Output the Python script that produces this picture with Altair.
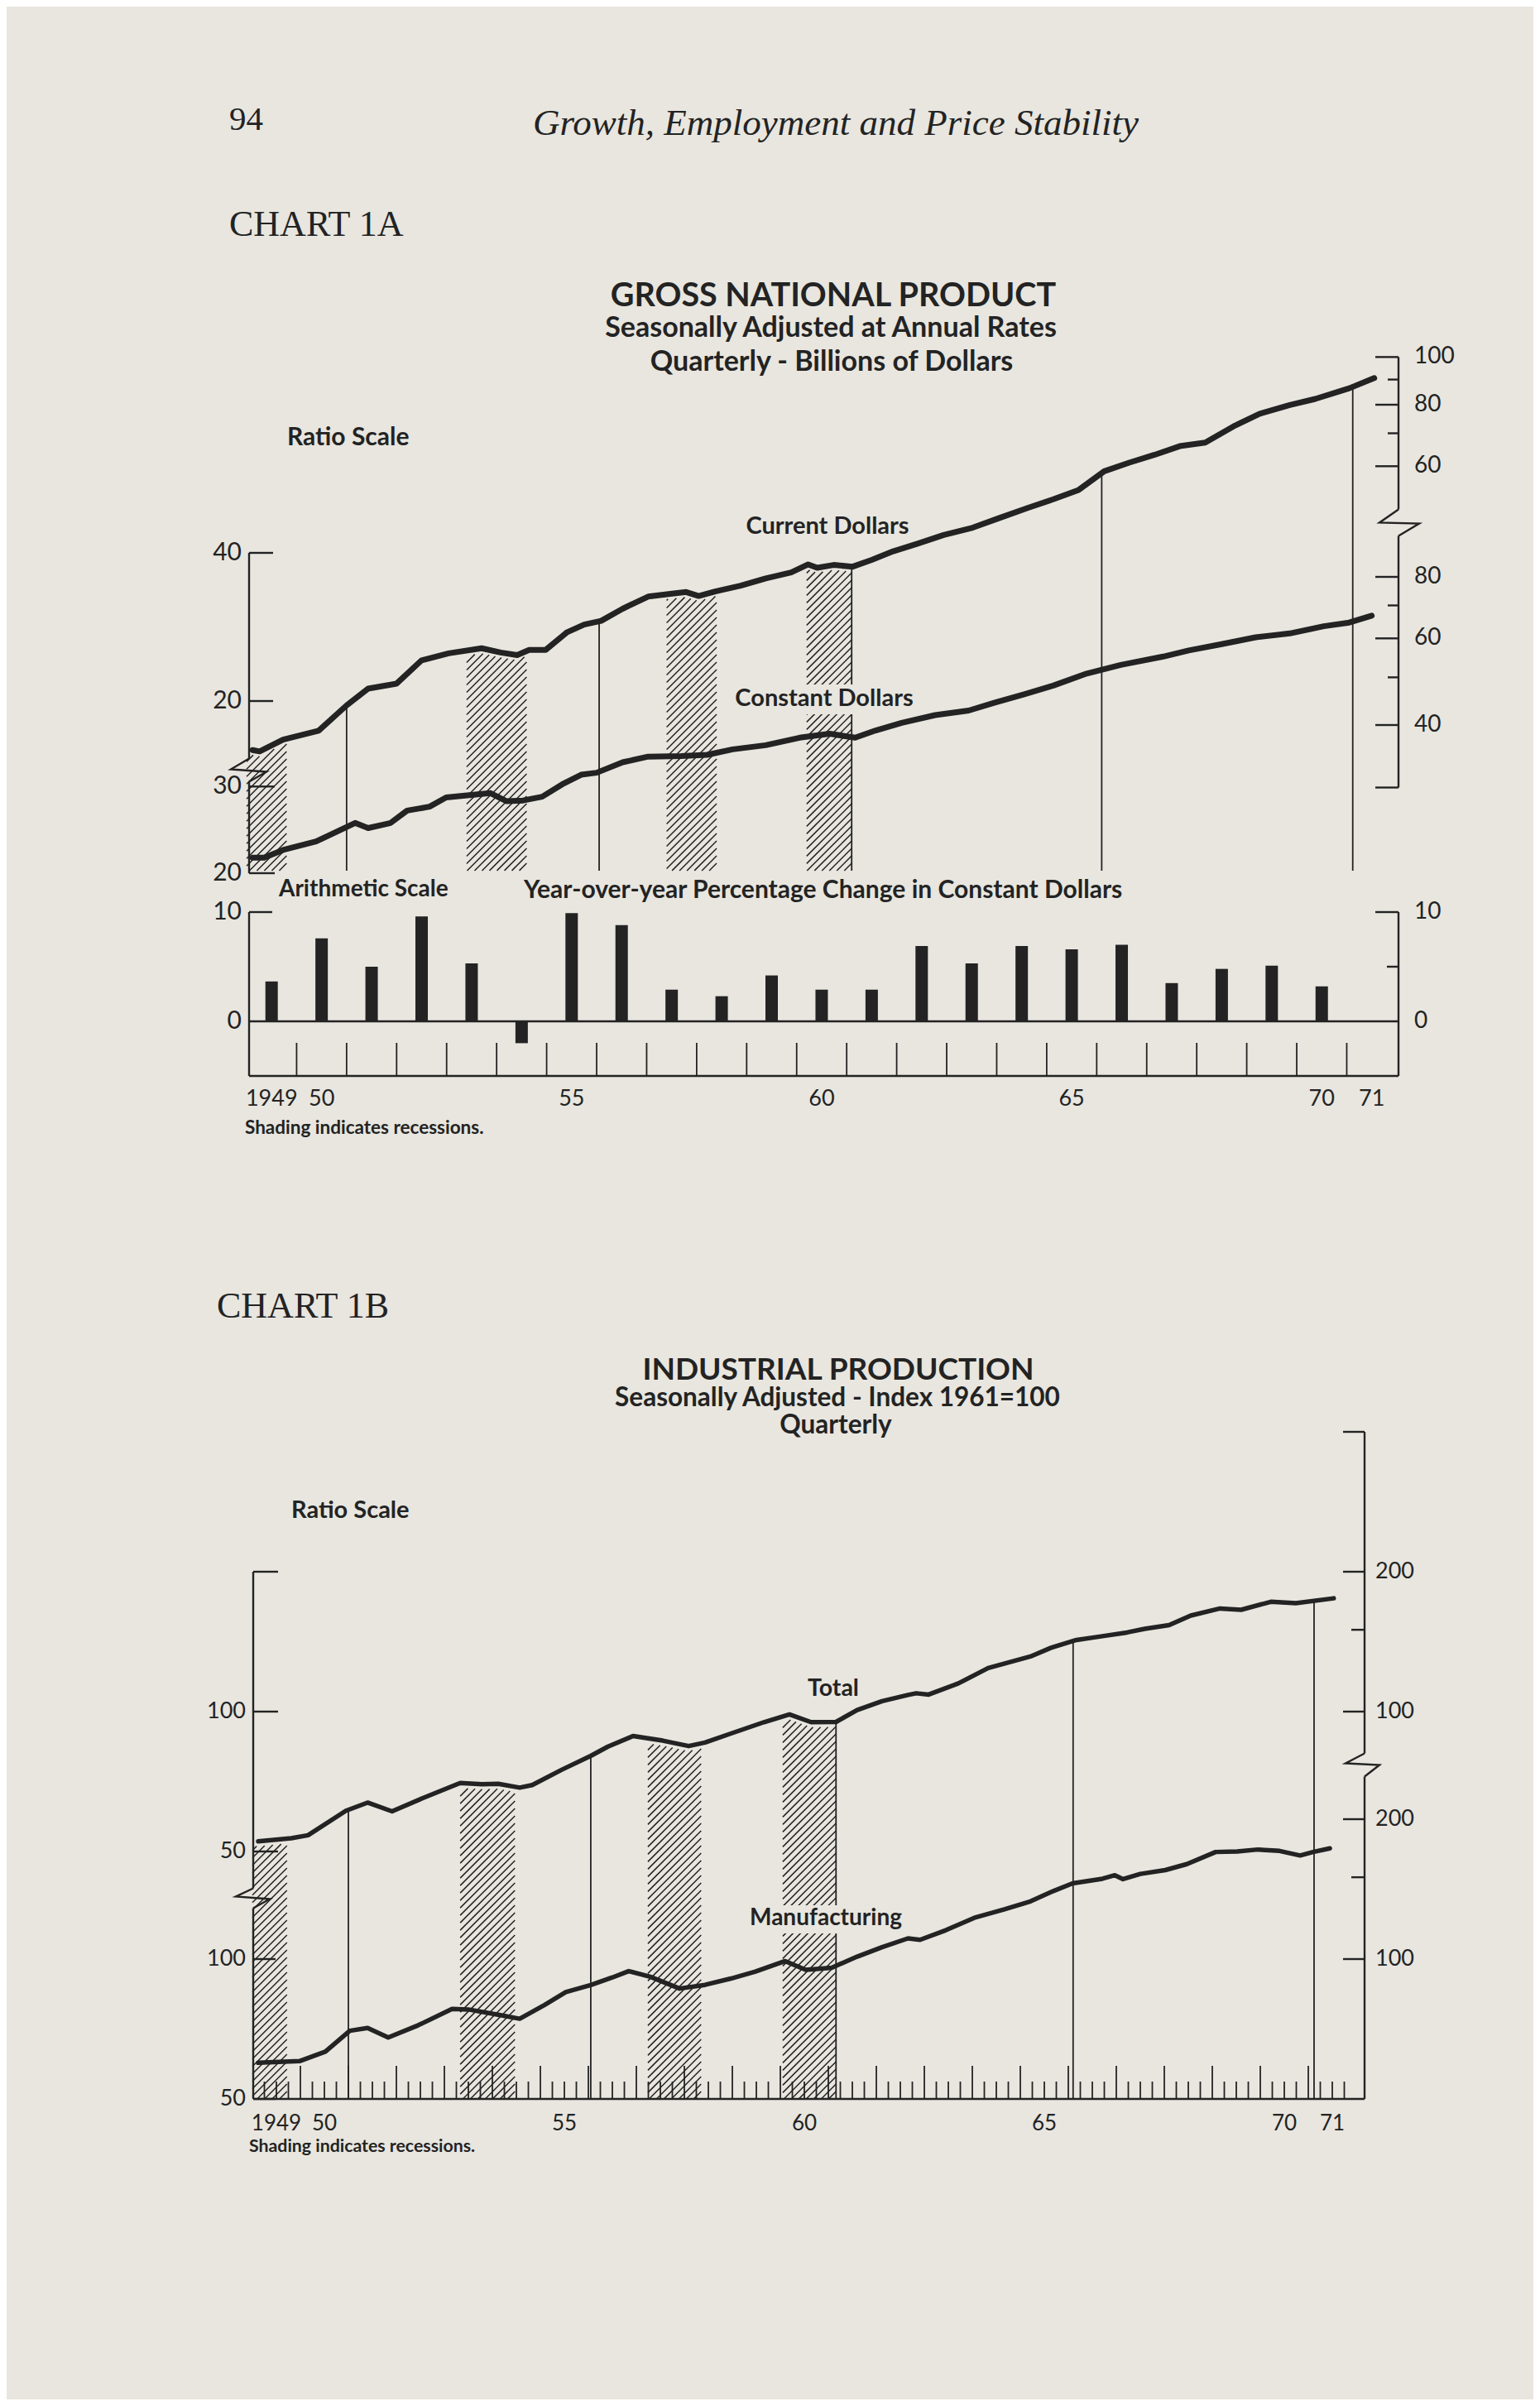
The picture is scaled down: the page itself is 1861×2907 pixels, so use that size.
import altair as alt
import numpy as np
import pandas as pd

# ---------------- values ----------------
# Chart 1A - GNP, billions of dollars (ratio scale), quarterly readings
CUR_T = [1949.12, 1949.26, 1949.73, 1950.44, 1951.0, 1951.43, 1952.0, 1952.5, 1953.04, 1953.7,
         1954.08, 1954.41, 1954.65, 1954.98, 1955.41, 1955.75, 1956.09, 1956.52, 1957.03, 1957.44,
         1957.79, 1958.04, 1958.37, 1958.88, 1959.38, 1959.89, 1960.23, 1960.41, 1960.74, 1961.12,
         1961.5, 1961.93, 1962.43, 1962.94, 1963.52, 1964.03, 1964.63, 1965.13, 1965.64, 1966.15,
         1966.65, 1967.16, 1967.66, 1968.17, 1968.77, 1969.26, 1969.86, 1970.37, 1971.05, 1971.55]
CUR_V = [15.9, 15.8, 16.7, 17.4, 19.6, 21.2, 21.7, 24.2, 25.0, 25.6,
         25.1, 24.8, 25.4, 25.4, 27.6, 28.6, 29.1, 30.8, 32.6, 33.0,
         33.3, 32.7, 33.4, 34.3, 35.5, 36.5, 37.9, 37.3, 37.8, 37.5,
         38.7, 40.3, 41.8, 43.5, 45.0, 47.0, 49.4, 51.4, 53.7, 58.6,
         61.0, 63.3, 65.9, 67.0, 72.6, 76.7, 79.9, 82.2, 86.4, 90.6]
CON_T = [1949.12, 1949.35, 1949.73, 1950.39, 1951.17, 1951.43, 1951.88, 1952.21, 1952.66, 1952.99,
         1953.87, 1954.2, 1954.53, 1954.91, 1955.31, 1955.69, 1956.0, 1956.52, 1957.03, 1957.69,
         1958.21, 1958.72, 1959.38, 1960.06, 1960.66, 1961.17, 1961.58, 1962.1, 1962.77, 1963.44,
         1963.95, 1964.55, 1965.13, 1965.8, 1966.48, 1967.33, 1967.84, 1968.5, 1969.18, 1969.86,
         1970.54, 1971.05, 1971.5]
CON_V = [21.5, 21.5, 22.3, 23.2, 25.3, 24.7, 25.3, 26.8, 27.3, 28.5,
         29.1, 28.0, 28.1, 28.6, 30.3, 31.7, 32.0, 33.6, 34.5, 34.6,
         34.8, 35.7, 36.4, 37.7, 38.4, 37.7, 39.0, 40.4, 41.9, 42.8,
         44.4, 46.2, 48.1, 50.9, 53.0, 55.1, 56.7, 58.4, 60.3, 61.4,
         63.5, 64.6, 66.7]
# year-over-year % change in constant dollars
BAR_YEARS = list(range(1949, 1971))
BAR_PCT = [3.65, 7.6, 5.0, 9.6, 5.3, -2.0, 9.9, 8.8, 2.9, 2.3, 4.2,
           2.9, 2.9, 6.9, 5.3, 6.9, 6.6, 7.0, 3.5, 4.8, 5.1, 3.2]

# Chart 1B - industrial production, index 1961=100 (ratio scale)
TOT_T = [1949.12, 1949.81, 1950.16, 1950.95, 1951.4, 1951.91, 1952.53, 1953.33, 1953.78, 1954.12,
         1954.57, 1954.83, 1955.45, 1956.05, 1956.41, 1956.93, 1957.55, 1958.09, 1958.43, 1958.97,
         1959.66, 1960.19, 1960.64, 1961.16, 1961.6, 1962.12, 1962.66, 1962.83, 1963.09, 1963.71,
         1964.33, 1965.21, 1965.64, 1966.17, 1966.71, 1967.22, 1967.59, 1968.1, 1968.55, 1969.16,
         1969.6, 1970.22, 1970.74, 1971.53]
TOT_V = [52.6, 53.4, 54.2, 61.2, 63.7, 61.0, 65.0, 70.2, 69.8, 69.9,
         68.6, 69.5, 75.0, 80.3, 84.1, 88.6, 86.6, 84.3, 85.8, 89.7,
         94.9, 98.6, 94.9, 95.0, 100.8, 105.3, 108.6, 109.5, 108.8, 115.0,
         124.1, 131.4, 137.2, 142.6, 145.3, 148.0, 150.7, 153.5, 160.9, 166.7,
         165.6, 172.3, 171.2, 175.3]
MAN_T = [1949.12, 1949.98, 1950.52, 1951.03, 1951.4, 1951.83, 1952.45, 1953.16, 1953.5, 1954.12,
         1954.57, 1955.09, 1955.53, 1956.05, 1956.5, 1956.84, 1957.29, 1957.9, 1958.43, 1958.97,
         1959.48, 1960.1, 1960.53, 1961.07, 1961.6, 1962.12, 1962.66, 1962.91, 1963.45, 1964.07,
         1964.67, 1965.21, 1965.64, 1966.09, 1966.71, 1966.97, 1967.14, 1967.5, 1968.02, 1968.47,
         1969.07, 1969.52, 1969.95, 1970.4, 1970.83, 1971.1, 1971.45]
MAN_V = [59.8, 60.3, 63.2, 70.1, 71.1, 67.8, 72.0, 78.1, 77.9, 75.9,
         74.4, 79.7, 84.9, 87.9, 91.3, 94.2, 91.6, 86.4, 88.0, 90.8,
         94.0, 99.0, 94.8, 95.8, 101.2, 106.1, 110.8, 110.0, 115.4, 123.0,
         128.0, 133.1, 139.4, 145.5, 148.9, 151.5, 148.6, 152.5, 155.4, 160.1,
         170.0, 170.4, 172.1, 170.9, 167.1, 170.0, 173.1]

RECESSIONS_A = [(1949.0, 1949.8), (1953.4, 1954.6), (1957.4, 1958.4), (1960.2, 1961.1)]
RECESSIONS_B = [(1949.0, 1949.72), (1953.33, 1954.47), (1957.24, 1958.35), (1960.05, 1961.16)]
MARKERS_A = [1951.0, 1956.05, 1961.1, 1966.1, 1971.12]
MARKERS_B = [1951.0, 1956.05, 1961.16, 1966.1, 1971.12]

YEAR_LABEL_YEARS = [1949, 1950, 1955, 1960, 1965, 1970, 1971]
YEAR_LABELS = ["1949", "50", "55", "60", "65", "70", "71"]

# axis tick values / labels
A_LEFT_CUR = [40, 20]
A_LEFT_CON = [30, 20]
A_RIGHT_CUR = [100, 80, 60]
A_RIGHT_CUR_MINOR = [90, 70]
A_RIGHT_CON = [80, 60, 40]
A_RIGHT_CON_MINOR = [70, 50]
BAR_LABELS = [10, 0]
B_LEFT_TOT = [100, 50]
B_LEFT_MAN = [100, 50]
B_RIGHT_TOT = [200, 100]
B_RIGHT_MAN = [200, 100]
B_RIGHT_MINOR = [150]

# ---------------- page geometry (page pixels) ----------------
OFF = 8
W, H = 1845, 2891
BG = "#e8e6df"
INK = "#232323"
SERIF = "'Liberation Serif', 'Times New Roman', serif"
SANS = "Lato, 'Open Sans', sans-serif"

A_X0, A_PXYR = 298.0, 60.43
B_X0, B_PXYR = 305.0, 58.0
A_LEFT, A_RIGHT = 301, 1690
B_LEFT, B_RIGHT = 306, 1649
DBL_A, DBL_B = 179.0, 169.0
REF_CUR, REF_CON, REF_TOT, REF_MAN = 668.0, 876.0, 2068.0, 2367.0


def val_c(y): return 40 * 2 ** ((REF_CUR - y) / DBL_A)
def val_k(y): return 40 * 2 ** ((REF_CON - y) / DBL_A)
def val_t(y): return 100 * 2 ** ((REF_TOT - y) / DBL_B)
def val_m(y): return 100 * 2 ** ((REF_MAN - y) / DBL_B)


def xscale(x0, pxyr):
    return alt.Scale(domain=[1949, 1972], range=[x0 - OFF, x0 + 23 * pxyr - OFF], nice=False, zero=False)


def logscale(vref, yref, dbl):
    f = lambda v: yref - dbl * np.log2(v / vref)
    return alt.Scale(type="log", domain=[10, 1000], range=[float(f(10)) - OFF, float(f(1000)) - OFF], nice=False)


XA = lambda: xscale(A_X0, A_PXYR)
XB = lambda: xscale(B_X0, B_PXYR)
SC = lambda: logscale(40, REF_CUR, DBL_A)
SK = lambda: logscale(40, REF_CON, DBL_A)
ST = lambda: logscale(100, REF_TOT, DBL_B)
SM = lambda: logscale(100, REF_MAN, DBL_B)
SBAR = lambda: alt.Scale(domain=[0, 10], range=[1234 - OFF, 1102 - OFF], nice=False, zero=False)

ONE = pd.DataFrame({"a": [0]})
layers = []


def txt(s, x, y, size, font=SANS, weight="bold", align="left", style="normal"):
    return alt.Chart(ONE).mark_text(text=s, fontSize=size, font=font, fontWeight=weight, fontStyle=style,
                                    align=align, baseline="alphabetic", color=INK).encode(
        x=alt.value(x - OFF), y=alt.value(y - OFF))


def knockout(x1, x2, y1, y2):
    """paper-coloured box behind a label (the hatching stops behind the text in the original)"""
    return alt.Chart(ONE).mark_rect(color=BG).encode(
        x=alt.value(x1 - OFF), x2=alt.value(x2 - OFF), y=alt.value(y1 - OFF), y2=alt.value(y2 - OFF))


def vrule(xpx, v1, v2, ysc, width=2.4):
    df = pd.DataFrame({"a": [v1], "b": [v2]})
    return alt.Chart(df).mark_rule(strokeWidth=width, color=INK).encode(
        x=alt.value(xpx - OFF), y=alt.Y("a:Q", scale=ysc, axis=None), y2="b:Q")


def hrule(x1, x2, v, ysc, width=2.4):
    df = pd.DataFrame({"v": [v]})
    return alt.Chart(df).mark_rule(strokeWidth=width, color=INK).encode(
        x=alt.value(x1 - OFF), x2=alt.value(x2 - OFF), y=alt.Y("v:Q", scale=ysc, axis=None))


def ticks(x1, x2, vals, ysc, width=2.4):
    df = pd.DataFrame({"v": vals})
    return alt.Chart(df).mark_rule(strokeWidth=width, color=INK).encode(
        x=alt.value(x1 - OFF), x2=alt.value(x2 - OFF), y=alt.Y("v:Q", scale=ysc, axis=None))


def labels(xpx, vals, ysc, align, size):
    df = pd.DataFrame({"v": vals, "s": [str(v) for v in vals]})
    return alt.Chart(df).mark_text(align=align, baseline="middle", fontSize=size, font=SANS,
                                   color=INK).encode(
        x=alt.value(xpx - OFF), y=alt.Y("v:Q", scale=ysc, axis=None), text="s:N")


def zigzag(points):
    df = pd.DataFrame({"x": [p[0] - OFF for p in points], "y": [p[1] - OFF for p in points],
                       "o": list(range(len(points)))})
    return alt.Chart(df).mark_line(strokeWidth=2.4, color=INK).encode(
        x=alt.X("x:Q", scale=alt.Scale(domain=[0, W], range=[0, W], nice=False, zero=False), axis=None),
        y=alt.Y("y:Q", scale=alt.Scale(domain=[0, H], range=[0, H], nice=False, zero=False), axis=None),
        order="o:Q")


def hatch_df(t_curve, v_curve, intervals, pxyr, dbl, v_bottom, gap=6.0, step=9.0):
    lt = np.array(t_curve)
    lw = np.log2(np.array(v_curve)) * dbl
    wb = np.log2(v_bottom) * dbl
    rows = []
    for ta, tb in intervals:
        ua, ub = (ta - 1949) * pxyr, (tb - 1949) * pxyr
        us = np.linspace(ua, ub, 500)
        wc = np.interp(1949 + us / pxyr, lt, lw) - gap
        for c in np.arange(wb - ub, wc.max() - ua, step):
            ok = (us + c <= wc) & (us + c >= wb)
            if not ok.any():
                continue
            i0 = int(np.where(ok)[0][0])
            i1 = i0
            while i1 + 1 < len(us) and ok[i1 + 1]:
                i1 += 1
            u1, u2 = us[i0], us[i1]
            if u2 - u1 < 1:
                continue
            rows.append(dict(t1=1949 + u1 / pxyr, t2=1949 + u2 / pxyr,
                             v1=2 ** ((u1 + c) / dbl), v2=2 ** ((u2 + c) / dbl)))
    return pd.DataFrame(rows)


def hatch_layer(df, xs, ys):
    return alt.Chart(df).mark_rule(strokeWidth=1.5, color=INK).encode(
        x=alt.X("t1:Q", scale=xs, axis=None), x2="t2:Q",
        y=alt.Y("v1:Q", scale=ys, axis=None), y2="v2:Q")


def marker_layer(markers, t_curve, v_curve, v_bottom, xs, ys):
    top = [float(2 ** np.interp(m, t_curve, np.log2(v_curve))) for m in markers]
    df = pd.DataFrame({"t": markers, "a": top, "b": [v_bottom] * len(markers)})
    return alt.Chart(df).mark_rule(strokeWidth=1.8, color=INK).encode(
        x=alt.X("t:Q", scale=xs, axis=None), y=alt.Y("a:Q", scale=ys, axis=None), y2="b:Q")


def line_layer(t, v, xs, ys, width):
    df = pd.DataFrame({"t": t, "v": v})
    return alt.Chart(df).mark_line(strokeWidth=width, color=INK, strokeJoin="round", strokeCap="round").encode(
        x=alt.X("t:Q", scale=xs, axis=None), y=alt.Y("v:Q", scale=ys, axis=None), order="t:Q")


# ---------------- page header ----------------
layers += [
    txt("94", 277, 157, 41, font=SERIF, weight="normal"),
    txt("Growth, Employment and Price Stability", 1010, 163, 45, font=SERIF, weight="normal",
        align="center", style="italic"),
    txt("CHART 1A", 277, 285, 44, font=SERIF, weight="normal"),
    txt("GROSS NATIONAL PRODUCT", 1007, 370, 39.5, align="center"),
    txt("Seasonally Adjusted at Annual Rates", 1004, 407, 34, align="center"),
    txt("Quarterly - Billions of Dollars", 1005, 448, 34, align="center"),
    txt("Ratio Scale", 347, 538, 30),
    txt("Current Dollars", 1000, 645, 29, align="center"),
    txt("Arithmetic Scale", 337, 1083, 28),
    txt("Year-over-year Percentage Change in Constant Dollars", 633, 1085, 30),
    txt("Shading indicates recessions.", 296, 1370, 22.5),
]

# ---------------- Chart 1A: ratio panel ----------------
a_bottom = val_c(1052)
layers.append(hatch_layer(hatch_df(CUR_T, CUR_V, RECESSIONS_A, A_PXYR, DBL_A, a_bottom), XA(), SC()))
layers.append(marker_layer(MARKERS_A, CUR_T, CUR_V, a_bottom, XA(), SC()))
layers.append(knockout(884, 1108, 827, 863))
layers.append(txt("Constant Dollars", 996, 853, 29, align="center"))
layers.append(line_layer(CUR_T, CUR_V, XA(), SC(), 7))
layers.append(line_layer(CON_T, CON_V, XA(), SK(), 7))

layers += [
    vrule(A_LEFT, 40, val_c(916.5), SC()),
    vrule(A_LEFT, val_k(944.5), 20, SK()),
    vrule(A_RIGHT, 100, val_c(615.5), SC()),
    vrule(A_RIGHT, val_k(647.5), val_k(951.5), SK()),
    ticks(A_LEFT, A_LEFT + 29, A_LEFT_CUR, SC()),
    ticks(A_LEFT, A_LEFT + 31, A_LEFT_CON, SK()),
    ticks(A_RIGHT - 28, A_RIGHT, A_RIGHT_CUR, SC()),
    ticks(A_RIGHT - 13, A_RIGHT, A_RIGHT_CUR_MINOR, SC()),
    ticks(A_RIGHT - 28, A_RIGHT, A_RIGHT_CON + [val_k(951.5)], SK()),
    ticks(A_RIGHT - 13, A_RIGHT, A_RIGHT_CON_MINOR, SK()),
    labels(292, A_LEFT_CUR, SC(), "right", 30),
    labels(292, A_LEFT_CON, SK(), "right", 30),
    labels(1709, A_RIGHT_CUR, SC(), "left", 28),
    labels(1709, A_RIGHT_CON, SK(), "left", 28),
    zigzag([(A_LEFT, 916.5), (279, 929.5), (322, 932.5), (A_LEFT, 944.5)]),
    zigzag([(A_RIGHT, 615.5), (1667, 631.5), (1715, 632.5), (A_RIGHT, 647.5)]),
]

# ---------------- Chart 1A: bar panel ----------------
bars = pd.DataFrame({"x": [y + 0.5 for y in BAR_YEARS], "v": BAR_PCT, "z": [0.0] * len(BAR_YEARS)})
layers.append(alt.Chart(bars).mark_rule(strokeWidth=15, color=INK, strokeCap="butt").encode(
    x=alt.X("x:Q", scale=XA(), axis=None), y=alt.Y("z:Q", scale=SBAR(), axis=None), y2="v:Q"))
ytk = pd.DataFrame({"t": list(range(1950, 1972)), "a": [-5.0] * 22, "b": [-5.0 + 40 / 13.2] * 22})
layers.append(alt.Chart(ytk).mark_rule(strokeWidth=1.8, color=INK).encode(
    x=alt.X("t:Q", scale=XA(), axis=None), y=alt.Y("a:Q", scale=SBAR(), axis=None), y2="b:Q"))
layers += [
    hrule(A_LEFT, A_RIGHT, 0, SBAR(), 2.6),
    hrule(A_LEFT, A_RIGHT, -5, SBAR(), 2.6),
    vrule(A_LEFT, 10, -5, SBAR()),
    vrule(A_RIGHT, 10, -5, SBAR()),
    ticks(A_LEFT, A_LEFT + 28, [10], SBAR()),
    ticks(A_RIGHT - 28, A_RIGHT, [10], SBAR()),
    ticks(A_RIGHT - 14, A_RIGHT, [5], SBAR()),
    labels(292, BAR_LABELS, SBAR(), "right", 30),
    labels(1709, BAR_LABELS, SBAR(), "left", 28),
]
ylab = pd.DataFrame({"x": [y + 0.5 for y in YEAR_LABEL_YEARS], "s": YEAR_LABELS})
layers.append(alt.Chart(ylab).mark_text(fontSize=27, font=SANS, color=INK, baseline="alphabetic").encode(
    x=alt.X("x:Q", scale=XA(), axis=None), y=alt.value(1336 - OFF), text="s:N"))

# ---------------- Chart 1B ----------------
layers += [
    txt("CHART 1B", 262, 1592, 44, font=SERIF, weight="normal"),
    txt("INDUSTRIAL PRODUCTION", 1013, 1667, 37, align="center"),
    txt("Seasonally Adjusted - Index 1961=100", 1012, 1699, 31.5, align="center"),
    txt("Quarterly", 1010, 1732, 31.5, align="center"),
    txt("Ratio Scale", 352, 1834, 29),
    txt("Total", 1007, 2049, 28.5, align="center"),
    txt("Shading indicates recessions.", 301, 2600, 21.3),
]
b_bottom = val_t(2536)
layers.append(hatch_layer(hatch_df(TOT_T, TOT_V, RECESSIONS_B, B_PXYR, DBL_B, b_bottom), XB(), ST()))
layers.append(marker_layer(MARKERS_B, TOT_T, TOT_V, b_bottom, XB(), ST()))
layers.append(knockout(892, 1104, 2302, 2336))
layers.append(txt("Manufacturing", 998, 2326, 28, align="center"))
layers.append(line_layer(TOT_T, TOT_V, XB(), ST(), 5.5))
layers.append(line_layer(MAN_T, MAN_V, XB(), SM(), 5.5))

layers += [
    vrule(B_LEFT, 200, val_t(2281.5), ST()),
    vrule(B_LEFT, val_m(2305.5), 50, SM()),
    vrule(B_RIGHT, 400, val_t(2118.5), ST()),
    vrule(B_RIGHT, val_m(2146.5), 50, SM()),
    ticks(B_LEFT, B_LEFT + 30, [200] + B_LEFT_TOT, ST()),
    ticks(B_LEFT, B_LEFT + 27, B_LEFT_MAN, SM()),
    ticks(B_RIGHT - 26, B_RIGHT, [400] + B_RIGHT_TOT, ST()),
    ticks(B_RIGHT - 16, B_RIGHT, B_RIGHT_MINOR, ST()),
    ticks(B_RIGHT - 26, B_RIGHT, B_RIGHT_MAN, SM()),
    ticks(B_RIGHT - 16, B_RIGHT, B_RIGHT_MINOR, SM()),
    labels(297, B_LEFT_TOT, ST(), "right", 27),
    labels(297, B_LEFT_MAN, SM(), "right", 27),
    labels(1662, B_RIGHT_TOT, ST(), "left", 27),
    labels(1662, B_RIGHT_MAN, SM(), "left", 27),
    hrule(B_LEFT, B_RIGHT, 50, SM(), 2.6),
    zigzag([(B_LEFT, 2281.5), (285, 2291.5), (326, 2294.5), (B_LEFT, 2305.5)]),
    zigzag([(B_RIGHT, 2118.5), (1626, 2130.5), (1667, 2132.5), (B_RIGHT, 2146.5)]),
]
qt = [1949 + q / 4 for q in range(1, 92)]
qdf = pd.DataFrame({"t": qt, "a": [50.0] * len(qt),
                    "b": [50 * 2 ** ((40 if abs(t - round(t)) < 1e-6 else 21) / DBL_B) for t in qt]})
layers.append(alt.Chart(qdf).mark_rule(strokeWidth=1.8, color=INK).encode(
    x=alt.X("t:Q", scale=XB(), axis=None), y=alt.Y("a:Q", scale=SM(), axis=None), y2="b:Q"))
ylab2 = pd.DataFrame({"x": [y + 0.5 for y in YEAR_LABEL_YEARS], "s": YEAR_LABELS})
layers.append(alt.Chart(ylab2).mark_text(fontSize=26, font=SANS, color=INK, baseline="alphabetic").encode(
    x=alt.X("x:Q", scale=XB(), axis=None), y=alt.value(2574 - OFF), text="s:N"))

chart = alt.layer(*layers).resolve_scale(x="independent", y="independent").properties(
    width=W, height=H, padding=0, background=BG,
    autosize=alt.AutoSizeParams(type="none"),
).configure_view(stroke=None)

chart.save("out.html", embed_options={"renderer": "svg", "actions": False})
